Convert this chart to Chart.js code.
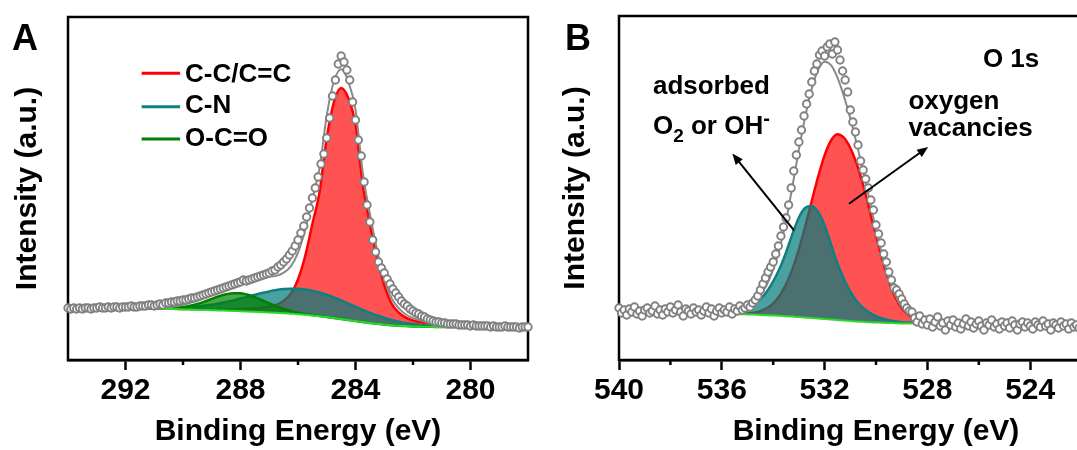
<!DOCTYPE html>
<html>
<head>
<meta charset="utf-8">
<script src="https://cdn.jsdelivr.net/npm/chart.js@4.4.1/dist/chart.umd.min.js"></script>
<style>
  html, body { margin: 0; padding: 0; background: #fff; overflow: hidden; }
  body { width: 1077px; height: 450px; position: relative; }
  canvas { position: absolute; top: 0; }
  #chartA { left: 0; }
  #chartB { left: 540px; }
</style>
</head>
<body>
<canvas id="chartA" width="540" height="450"></canvas>
<canvas id="chartB" width="610" height="450"></canvas>
<script>
const FONT = "'Liberation Sans', Arial, sans-serif";

// ---- C 1s (panel A) ----
// raw scan, 0.1 eV steps from 294.0 eV down to 278.0 eV
const c1sScanStart = 294.0;
const c1sCounts = [
  52, 51, 52, 51, 52, 51, 52, 52, 51, 52,
  52, 53, 52, 52, 53, 52, 53, 53, 52, 53,
  53, 53, 54, 53, 53, 54, 54, 54, 55, 55,
  54, 55, 56, 55, 57, 57, 58, 58, 59, 59,
  60, 60, 61, 62, 62, 63, 64, 65, 66, 67,
  68, 69, 70, 71, 72, 73, 74, 75, 76, 77,
  78, 80, 79, 80, 81, 82, 83, 84, 85, 86,
  87, 89, 90, 93, 95, 98, 101, 105, 109, 114,
  120, 127, 134, 143, 152, 162, 172, 183, 196, 206,
  222, 242, 264, 280, 296, 304, 298, 290, 280, 258,
  240, 220, 204, 178, 155, 138, 120, 108, 98, 92,
  87, 81, 76, 71, 67, 63, 59, 56, 54, 51,
  49, 47, 46, 44, 43, 41, 40, 39, 38, 38,
  37, 37, 36, 36, 36, 36, 35, 35, 35, 35,
  34, 35, 34, 34, 34, 34, 34, 33, 34, 33,
  33, 33, 34, 33, 33, 33, 33, 32, 33, 33,
  33
];

// peak fit, 0.25 eV grid from 291.75 eV down to 280.5 eV
const c1sFitStart = 291.75;
const c1sBackground = [
  52, 51.8, 51.6, 51.4, 51.2, 51, 50.8, 50.6, 50.4, 50.2,
  50, 49.8, 49.6, 49.3, 49, 48.8, 48.5, 48.2, 47.9, 47.6,
  47.2, 46.8, 46.3, 45.8, 45.2, 44.5, 43.7, 42.9, 42, 41,
  40, 39, 38, 37, 36.2, 35.5, 34.8, 34.3, 33.9, 33.6,
  33.4, 33.2, 33.1, 33, 33, 33
];
const c1sCC = [
  52.3, 52.1, 51.9, 51.7, 51.5, 51.3, 51.2, 51.0, 50.9, 50.8,
  50.3, 50.3, 50.4, 50.5, 50.7, 51.1, 51.3, 51.7, 52.5, 53.4,
  55.1, 59.0, 66.2, 80.5, 104, 136, 168, 222, 258, 272,
  262, 236, 176, 136, 102, 74.8, 56.7, 47.7, 42.4, 39.6,
  38.0, 36.7, 36.1, 35.3, 34.8, 34.4
];
const c1sCN = [
  52.1, 52.0, 51.9, 51.8, 51.8, 51.9, 52.0, 52.4, 52.8, 53.4,
  54.3, 55.3, 56.6, 58.0, 59.6, 61.5, 63.3, 65.2, 67.0, 68.6,
  69.9, 70.9, 71.3, 71.3, 70.6, 69.4, 67.5, 65.3, 62.7, 59.7,
  56.5, 53.4, 50.2, 47.2, 44.6, 42.2, 40.1, 38.4, 37.0, 35.9,
  35.1, 34.4, 33.9, 33.6, 33.4, 33.25
];
const c1sOCO = [
  52, 51.8, 51.7, 51.5, 51.5, 51.7, 52.1, 52.9, 54.2, 56.1,
  58.4, 61.1, 63.7, 65.7, 66.8, 66.7, 65.3, 62.9, 59.8, 56.6,
  53.5, 51, 48.8, 47.2, 46, 44.9, 43.9, 43, 42, 41,
  40, 39, 38, 37, 36.2, 35.5, 34.8, 34.3, 33.9, 33.6,
  33.4, 33.2, 33.1, 33, 33, 33
];
const c1sTicks = [280, 284, 288, 292];
const c1sMinorTicks = [282, 286, 290];

// ---- O 1s (panel B) ----
// raw scan, 0.1 eV steps from 540.0 eV down to 522.0 eV
const o1sScanStart = 540.0;
const o1sCounts = [
  52, 47, 50, 45, 51, 48, 53, 46, 49, 44,
  50, 52, 47, 49, 54, 46, 50, 45, 51, 48,
  53, 47, 50, 55, 48, 44, 51, 49, 46, 52,
  48, 50, 45, 49, 53, 47, 51, 44, 49, 52,
  47, 50, 48, 53, 46, 51, 49, 54, 50, 52,
  55, 53, 57, 60, 64, 70, 76, 82, 88, 93,
  98, 106, 114, 124, 133, 142, 155, 172, 189, 205,
  218, 230, 244, 256, 266, 278, 289, 296, 305, 309,
  304, 313, 316, 306, 318, 310, 300, 289, 280, 268,
  250, 238, 228, 215, 199, 190, 181, 172, 160, 150,
  135, 126, 117, 106, 98, 88, 80, 72, 70, 66,
  61, 56, 52, 49, 48, 42, 38, 44, 36, 40,
  35, 41, 33, 38, 43, 34, 37, 30, 39, 35,
  40, 33, 37, 31, 36, 41, 34, 38, 32, 36,
  39, 34, 30, 37, 35, 40, 33, 36, 31, 38,
  34, 37, 32, 39, 35, 30, 36, 38, 33, 37,
  34, 31, 38, 35, 33, 39, 34, 36, 30, 37,
  35, 32, 38, 34, 36, 31, 37, 33, 35, 32,
  36
];

// peak fit, 0.25 eV grid from 537.0 eV down to 526.0 eV
const o1sFitStart = 537.0;
const o1sBackground = [
  46.8, 46.7, 46.6, 46.5, 46.4, 46.2, 46.0, 45.8, 45.6, 45.4,
  45.1, 44.8, 44.5, 44.2, 43.8, 43.4, 42.9, 42.4, 41.9, 41.4,
  40.9, 40.4, 39.9, 39.4, 39.0, 38.6, 38.2, 37.8, 37.5, 37.2,
  37.0, 36.8, 36.6, 36.5, 36.4, 36.3, 36.3, 36.2, 36.2, 36.2,
  36.1, 36.1, 36.1, 36.1, 36.1
];
const o1sVacancy = [
  46.8, 46.7, 46.6, 46.5, 46.4, 46.2, 46.1, 46.2, 46.5, 47.2,
  48.9, 51.7, 56.6, 64.3, 75.6, 91.1, 110.7, 133.9, 159, 183.5,
  204.7, 219.5, 225.7, 222.3, 212, 196, 175, 150, 124, 100,
  79, 63, 52, 45.5, 41.2, 38.8, 37.5, 36.8, 36.5, 36.3,
  36.1, 36.1, 36.1, 36.1, 36.1
];
const o1sAdsorbed = [
  47.0, 47.1, 47.3, 47.5, 47.9, 48.6, 49.3, 50.8, 53.1, 56.5,
  61.1, 68.3, 78.6, 91.4, 107.5, 126.1, 142.5, 152.2, 154.1, 148.1,
  134.5, 115.7, 96.6, 81.0, 68.6, 58.7, 52.0, 47.3, 43.8, 41.5,
  39.9, 38.8, 37.8, 37.4, 37.0, 36.6, 36.5, 36.3, 36.3, 36.2,
  36.2, 36.1, 36.1, 36.1, 36.1
];
const o1sTicks = [520, 524, 528, 532, 536, 540];
const o1sMinorTicks = [522, 526, 530, 534, 538];

const SCAN_STEP = 0.1;
const FIT_STEP = 0.25;

// energy axis of an evenly sampled scan (high -> low binding energy)
function energies(start, step, n) {
  return Array.from({ length: n }, (_, i) => +(start - i * step).toFixed(2));
}

function points(xs, ys) {
  return ys.map((y, i) => ({ x: xs[i], y }));
}

// cumulative fit = background + sum of all peaks above background
function envelope(bg, peaks) {
  return bg.map((b, i) => peaks.reduce((s, p) => s + p[i] - b, b));
}

function boldFont(size) {
  return { family: FONT, size, weight: 'bold' };
}

// box around the plot area, drawn under the data circles
const framePlugin = {
  id: 'frame',
  beforeDatasetsDraw(chart) {
    const { ctx, chartArea: a } = chart;
    ctx.save();
    ctx.lineWidth = 2.5;
    ctx.strokeStyle = '#000';
    ctx.strokeRect(a.left, a.top, a.right - a.left, a.bottom - a.top);
    ctx.restore();
  }
};

// short unlabelled ticks between the labelled ones
function minorTicks(values) {
  return {
    id: 'minorTicks',
    afterDraw(chart) {
      const { ctx, chartArea: a, scales: { x } } = chart;
      ctx.save();
      ctx.lineWidth = 2.5;
      ctx.strokeStyle = '#000';
      values.forEach(v => {
        const px = x.getPixelForValue(v);
        ctx.beginPath();
        ctx.moveTo(px, a.bottom);
        ctx.lineTo(px, a.bottom + 5);
        ctx.stroke();
      });
      ctx.restore();
    }
  };
}

function arrow(ctx, x0, y0, x1, y1) {
  const ang = Math.atan2(y1 - y0, x1 - x0);
  const len = 11, half = 4.5;
  const cx = Math.cos(ang), sy = Math.sin(ang);
  ctx.lineWidth = 2;
  ctx.beginPath();
  ctx.moveTo(x0, y0);
  ctx.lineTo(x1 - len * 0.8 * cx, y1 - len * 0.8 * sy);
  ctx.stroke();
  ctx.beginPath();
  ctx.moveTo(x1, y1);
  ctx.lineTo(x1 - len * cx + half * sy, y1 - len * sy - half * cx);
  ctx.lineTo(x1 - len * cx - half * sy, y1 - len * sy + half * cx);
  ctx.closePath();
  ctx.fill();
}

function write(ctx, str, x, y, size) {
  ctx.font = `bold ${size}px ${FONT}`;
  ctx.fillText(str, x, y);
  return ctx.measureText(str).width;
}

// panel letter + legend for the C 1s fit
const c1sNotes = {
  id: 'c1sNotes',
  afterDraw(chart) {
    const { ctx, scales: { x, y } } = chart;
    ctx.save();
    ctx.fillStyle = '#000';
    write(ctx, 'A', 12, 50, 36);
    const rows = [
      { label: 'C-C/C=C', color: '#ff0000', line: 286.7, base: 278.3 },
      { label: 'C-N', color: '#0f8080', line: 253.3, base: 246.7 },
      { label: 'O-C=O', color: '#008000', line: 221, base: 214.5 }
    ];
    rows.forEach(r => {
      ctx.strokeStyle = r.color;
      ctx.lineWidth = 3;
      ctx.beginPath();
      ctx.moveTo(x.getPixelForValue(291.44), y.getPixelForValue(r.line));
      ctx.lineTo(x.getPixelForValue(290.1), y.getPixelForValue(r.line));
      ctx.stroke();
      write(ctx, r.label, x.getPixelForValue(289.93), y.getPixelForValue(r.base), 26);
    });
    ctx.restore();
  }
};

// panel letter, peak assignments and arrows for the O 1s fit
const o1sNotes = {
  id: 'o1sNotes',
  afterDraw(chart) {
    const { ctx, scales: { x, y } } = chart;
    const px = e => x.getPixelForValue(e);
    const py = v => y.getPixelForValue(v);
    ctx.save();
    ctx.fillStyle = '#000';
    ctx.strokeStyle = '#000';
    write(ctx, 'B', 25, 50, 36);
    write(ctx, 'O 1s', px(525.84), py(293), 26);
    write(ctx, 'adsorbed', px(538.68), py(266), 26);

    // O2 or OH- with sub/superscript
    let cx = px(538.68);
    const by = py(226);
    cx += write(ctx, 'O', cx, by, 26);
    cx += write(ctx, '2', cx, by + 8, 19);
    cx += write(ctx, ' or OH', cx, by, 26);
    write(ctx, '-', cx, by - 9, 20);

    write(ctx, 'oxygen', px(528.74), py(251), 26);
    write(ctx, 'vacancies', px(528.74), py(224), 26);

    arrow(ctx, px(533.19), py(129.6), px(535.59), py(206.4));
    arrow(ctx, px(531.05), py(156.3), px(527.97), py(213.1));
    ctx.restore();
  }
};

function makePanel(canvasId, cfg) {
  const scanX = energies(cfg.scanStart, SCAN_STEP, cfg.counts.length);
  const fitX = energies(cfg.fitStart, FIT_STEP, cfg.background.length);
  const total = envelope(cfg.background, cfg.peaks.map(p => p.values));

  const datasets = [
    {
      data: points(scanX, cfg.counts),
      showLine: false,
      pointRadius: 3.7,
      pointBorderWidth: 1.9,
      pointBorderColor: '#808080',
      pointBackgroundColor: '#ffffff',
      clip: 10,
      order: 0
    },
    {
      data: points(fitX, total),
      borderColor: '#8a8a8a',
      borderWidth: 2,
      pointRadius: 0,
      cubicInterpolationMode: 'monotone',
      order: 1
    },
    {
      data: points(fitX, cfg.background),
      borderColor: '#2bd92b',
      borderWidth: 2,
      pointRadius: 0,
      cubicInterpolationMode: 'monotone',
      order: 2
    }
  ];
  cfg.peaks.forEach((p, k) => {
    datasets.push({
      data: points(fitX, p.values),
      borderColor: p.line,
      backgroundColor: p.fill,
      borderWidth: 2.5,
      pointRadius: 0,
      cubicInterpolationMode: 'monotone',
      fill: 2,
      order: 3 + k
    });
  });

  return new Chart(document.getElementById(canvasId).getContext('2d'), {
    type: 'line',
    data: { datasets },
    options: {
      responsive: false,
      animation: false,
      events: [],
      layout: { padding: { top: cfg.top, right: cfg.right, left: 0, bottom: 0 } },
      plugins: { legend: { display: false }, tooltip: { enabled: false } },
      scales: {
        x: {
          type: 'linear',
          min: cfg.xMin,
          max: cfg.xMax,
          reverse: true,
          afterBuildTicks: s => { s.ticks = cfg.ticks.map(v => ({ value: v })); },
          afterFit: s => { s.height = 90; },
          grid: { drawOnChartArea: false, drawTicks: true, tickLength: 10, tickWidth: 2.5, tickColor: '#000' },
          border: { display: true, color: '#000', width: 2.5 },
          ticks: { color: '#000', padding: 3, maxRotation: 0, autoSkip: false, font: boldFont(30) },
          title: {
            display: true,
            text: 'Binding Energy (eV)',
            color: '#000',
            padding: { top: 0, bottom: 0 },
            font: boldFont(30)
          }
        },
        y: {
          type: 'linear',
          min: 0,
          max: 360 - cfg.top,
          afterFit: s => { s.width = cfg.yWidth; },
          grid: { display: false, drawTicks: false },
          border: { display: false },
          ticks: { display: false },
          title: {
            display: true,
            text: 'Intensity (a.u.)',
            color: '#000',
            padding: { top: cfg.yTitlePad, bottom: 0 },
            font: boldFont(30)
          }
        }
      }
    },
    plugins: [framePlugin, minorTicks(cfg.minor), cfg.notes]
  });
}

makePanel('chartA', {
  scanStart: c1sScanStart,
  counts: c1sCounts,
  fitStart: c1sFitStart,
  background: c1sBackground,
  peaks: [
    { values: c1sOCO, line: '#008000', fill: 'rgba(0, 128, 0, 0.7)' },
    { values: c1sCN, line: '#0f8080', fill: 'rgba(6, 124, 124, 0.72)' },
    { values: c1sCC, line: '#ff0000', fill: 'rgba(255, 0, 0, 0.68)' }
  ],
  xMin: 278, xMax: 294,
  ticks: c1sTicks, minor: c1sMinorTicks,
  top: 17, right: 12, yWidth: 68, yTitlePad: 10,
  notes: c1sNotes
});

makePanel('chartB', {
  scanStart: o1sScanStart,
  counts: o1sCounts,
  fitStart: o1sFitStart,
  background: o1sBackground,
  peaks: [
    { values: o1sAdsorbed, line: '#0f8080', fill: 'rgba(6, 124, 124, 0.72)' },
    { values: o1sVacancy, line: '#ff0000', fill: 'rgba(255, 0, 0, 0.68)' }
  ],
  xMin: 520, xMax: 540,
  ticks: o1sTicks, minor: o1sMinorTicks,
  top: 16, right: 17, yWidth: 79, yTitlePad: 18,
  notes: o1sNotes
});
</script>
</body>
</html>
